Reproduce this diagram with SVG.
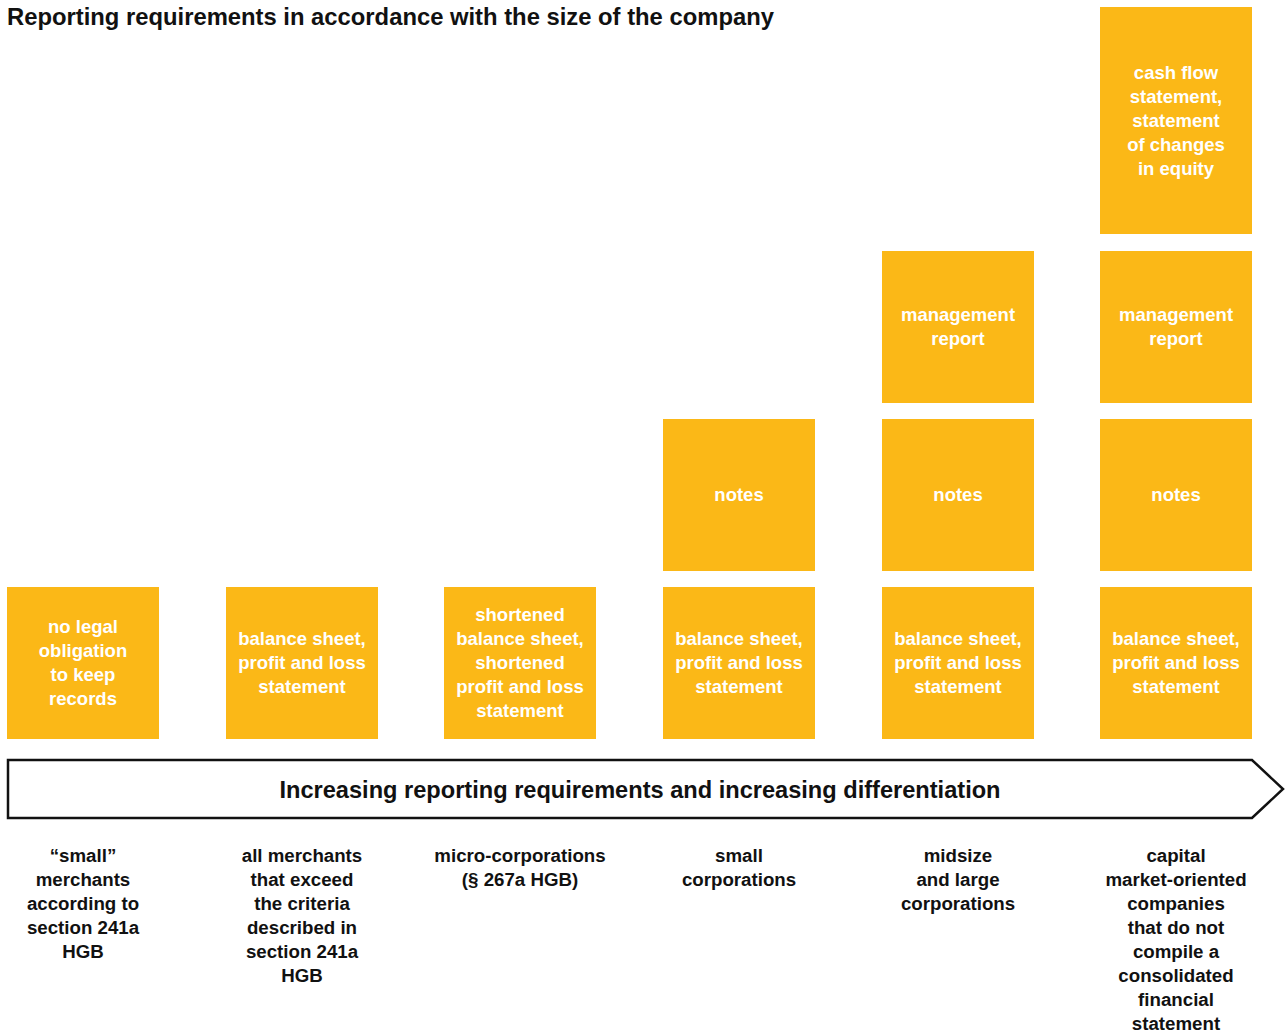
<svg xmlns="http://www.w3.org/2000/svg" width="1285" height="1035" viewBox="0 0 1285 1035">
  <style>
    .box { fill: #FBB817; }
    .bt { fill: #ffffff; font-family: "Liberation Sans", Arial, sans-serif; font-weight: bold; font-size: 18.5px; text-anchor: middle; }
    .lbl { fill: #111111; font-family: "Liberation Sans", Arial, sans-serif; font-weight: bold; font-size: 18.7px; text-anchor: middle; }
    .title { fill: #111111; font-family: "Liberation Sans", Arial, sans-serif; font-weight: bold; font-size: 23.8px; }
    .arrow { fill: #ffffff; stroke: #111111; stroke-width: 2.5; }
    .arrowtxt { fill: #111111; font-family: "Liberation Sans", Arial, sans-serif; font-weight: bold; font-size: 23.6px; text-anchor: middle; }
  </style>

  <text class="title" x="7" y="25">Reporting requirements in accordance with the size of the company</text>

  <!-- column 1: small merchants -->
  <g id="c1-base">
    <rect class="box" x="7" y="587" width="152" height="152"/>
    <text class="bt" x="83" y="633">no legal</text>
    <text class="bt" x="83" y="657">obligation</text>
    <text class="bt" x="83" y="681">to keep</text>
    <text class="bt" x="83" y="705">records</text>
  </g>

  <!-- column 2: merchants above the criteria -->
  <g id="c2-base">
    <rect class="box" x="226" y="587" width="152" height="152"/>
    <text class="bt" x="302" y="645">balance sheet,</text>
    <text class="bt" x="302" y="669">profit and loss</text>
    <text class="bt" x="302" y="693">statement</text>
  </g>

  <!-- column 3: micro-corporations -->
  <g id="c3-base">
    <rect class="box" x="444" y="587" width="152" height="152"/>
    <text class="bt" x="520" y="621">shortened</text>
    <text class="bt" x="520" y="645">balance sheet,</text>
    <text class="bt" x="520" y="669">shortened</text>
    <text class="bt" x="520" y="693">profit and loss</text>
    <text class="bt" x="520" y="717">statement</text>
  </g>

  <!-- column 4: small corporations -->
  <g id="c4-base">
    <rect class="box" x="663" y="587" width="152" height="152"/>
    <text class="bt" x="739" y="645">balance sheet,</text>
    <text class="bt" x="739" y="669">profit and loss</text>
    <text class="bt" x="739" y="693">statement</text>
  </g>
  <g id="c4-notes">
    <rect class="box" x="663" y="419" width="152" height="152"/>
    <text class="bt" x="739" y="501">notes</text>
  </g>

  <!-- column 5: midsize and large corporations -->
  <g id="c5-base">
    <rect class="box" x="882" y="587" width="152" height="152"/>
    <text class="bt" x="958" y="645">balance sheet,</text>
    <text class="bt" x="958" y="669">profit and loss</text>
    <text class="bt" x="958" y="693">statement</text>
  </g>
  <g id="c5-notes">
    <rect class="box" x="882" y="419" width="152" height="152"/>
    <text class="bt" x="958" y="501">notes</text>
  </g>
  <g id="c5-report">
    <rect class="box" x="882" y="251" width="152" height="152"/>
    <text class="bt" x="958" y="321">management</text>
    <text class="bt" x="958" y="345">report</text>
  </g>

  <!-- column 6: capital market-oriented companies -->
  <g id="c6-base">
    <rect class="box" x="1100" y="587" width="152" height="152"/>
    <text class="bt" x="1176" y="645">balance sheet,</text>
    <text class="bt" x="1176" y="669">profit and loss</text>
    <text class="bt" x="1176" y="693">statement</text>
  </g>
  <g id="c6-notes">
    <rect class="box" x="1100" y="419" width="152" height="152"/>
    <text class="bt" x="1176" y="501">notes</text>
  </g>
  <g id="c6-report">
    <rect class="box" x="1100" y="251" width="152" height="152"/>
    <text class="bt" x="1176" y="321">management</text>
    <text class="bt" x="1176" y="345">report</text>
  </g>
  <g id="c6-cashflow">
    <rect class="box" x="1100" y="7" width="152" height="227"/>
    <text class="bt" x="1176" y="79">cash flow</text>
    <text class="bt" x="1176" y="103">statement,</text>
    <text class="bt" x="1176" y="127">statement</text>
    <text class="bt" x="1176" y="151">of changes</text>
    <text class="bt" x="1176" y="175">in equity</text>
  </g>

  <!-- progression arrow -->
  <g id="connectors">
    <polygon class="arrow" points="8,760 1252,760 1283,789 1252,818 8,818"/>
    <text class="arrowtxt" x="640" y="797.5">Increasing reporting requirements and increasing differentiation</text>
  </g>

  <!-- company categories -->
  <g id="labels">
    <text class="lbl" x="83" y="862">“small”</text>
    <text class="lbl" x="83" y="886">merchants</text>
    <text class="lbl" x="83" y="910">according to</text>
    <text class="lbl" x="83" y="934">section 241a</text>
    <text class="lbl" x="83" y="958">HGB</text>

    <text class="lbl" x="302" y="862">all merchants</text>
    <text class="lbl" x="302" y="886">that exceed</text>
    <text class="lbl" x="302" y="910">the criteria</text>
    <text class="lbl" x="302" y="934">described in</text>
    <text class="lbl" x="302" y="958">section 241a</text>
    <text class="lbl" x="302" y="982">HGB</text>

    <text class="lbl" x="520" y="862">micro-corporations</text>
    <text class="lbl" x="520" y="886">(§ 267a HGB)</text>

    <text class="lbl" x="739" y="862">small</text>
    <text class="lbl" x="739" y="886">corporations</text>

    <text class="lbl" x="958" y="862">midsize</text>
    <text class="lbl" x="958" y="886">and large</text>
    <text class="lbl" x="958" y="910">corporations</text>

    <text class="lbl" x="1176" y="862">capital</text>
    <text class="lbl" x="1176" y="886">market-oriented</text>
    <text class="lbl" x="1176" y="910">companies</text>
    <text class="lbl" x="1176" y="934">that do not</text>
    <text class="lbl" x="1176" y="958">compile a</text>
    <text class="lbl" x="1176" y="982">consolidated</text>
    <text class="lbl" x="1176" y="1006">financial</text>
    <text class="lbl" x="1176" y="1030">statement</text>
  </g>
</svg>
